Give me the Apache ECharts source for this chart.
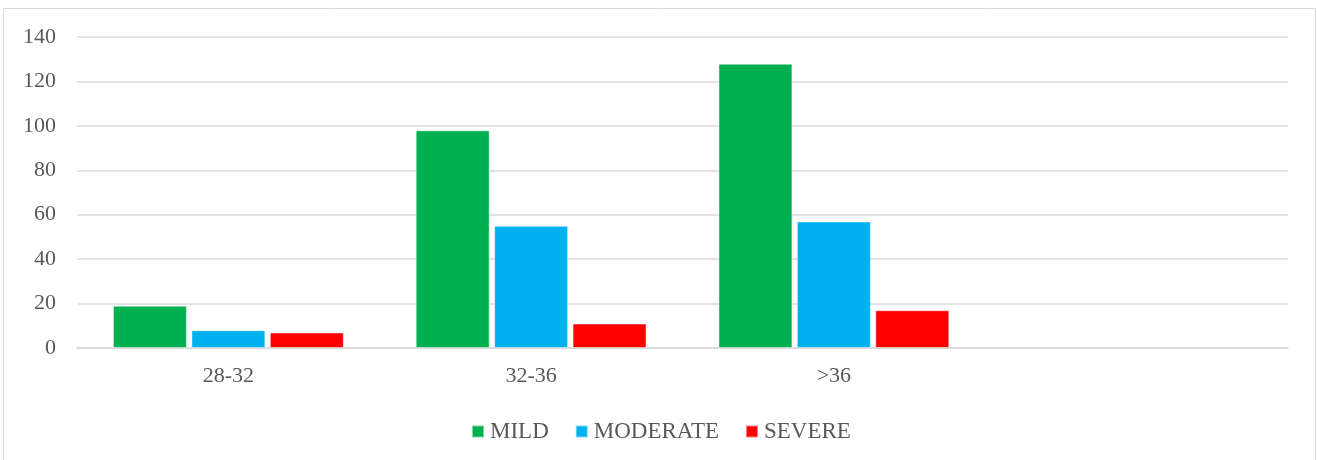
<!DOCTYPE html>
<html>
<head>
<meta charset="utf-8">
<script src="https://cdn.jsdelivr.net/npm/echarts@6/dist/echarts.min.js"></script>
<style>
  html, body { margin: 0; padding: 0; background: #fff; }
  #chart { width: 1317px; height: 460px; }
</style>
</head>
<body>
<div id="chart"></div>
<script>
// categories (last slot is empty in the original)
var categories = ['28-32', '32-36', '>36', ''];
var mild = [19, 98, 128];
var moderate = [8, 55, 57];
var severe = [7, 11, 17];
var yTicks = [0, 20, 40, 60, 80, 100, 120, 140];

var font = '"Liberation Serif", "Times New Roman", serif';
var textColor = '#595959';

var chart = echarts.init(document.getElementById('chart'));

function barSeries(name, data, color) {
  return {
    name: name,
    type: 'bar',
    data: data,
    barWidth: 74,
    barGap: '6%',
    itemStyle: { color: color, borderColor: 'rgba(255,255,255,0.5)', borderWidth: 1 },
    emphasis: { disabled: true }
  };
}

chart.setOption({
  animation: false,
  backgroundColor: '#fff',
  graphic: [{
    type: 'rect',
    shape: { x: 3.5, y: 8.5, width: 1312, height: 470 },
    style: { fill: 'none', stroke: '#d9d9d9', lineWidth: 1 },
    silent: true
  }],
  grid: { left: 77, right: 29, top: 37, bottom: 112, containLabel: false },
  legend: {
    data: ['MILD', 'MODERATE', 'SEVERE'],
    left: 466,
    top: 415,
    itemWidth: 12,
    itemHeight: 12,
    itemGap: 26,
    icon: 'rect',
    textStyle: { fontFamily: font, fontSize: 23, color: textColor, padding: [0, 0, 0, 1] }
  },
  xAxis: {
    type: 'category',
    data: categories,
    axisLine: { lineStyle: { color: '#d9d9d9', width: 1.5 } },
    axisTick: { show: false },
    axisLabel: { fontFamily: font, fontSize: 22, color: textColor, margin: 17 }
  },
  yAxis: {
    type: 'value',
    min: yTicks[0],
    max: yTicks[yTicks.length - 1],
    interval: yTicks[1] - yTicks[0],
    axisLine: { show: false },
    axisTick: { show: false },
    axisLabel: { fontFamily: font, fontSize: 22, color: textColor, margin: 21 },
    splitLine: { lineStyle: { color: '#d9d9d9', width: 1.5 } }
  },
  series: [
    barSeries('MILD', mild, '#00b050'),
    barSeries('MODERATE', moderate, '#00b0f0'),
    barSeries('SEVERE', severe, '#ff0000')
  ]
});
</script>
</body>
</html>
